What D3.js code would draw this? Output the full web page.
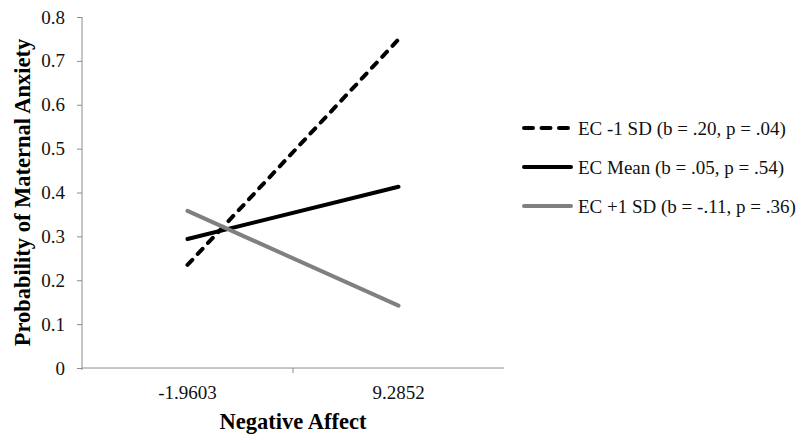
<!DOCTYPE html>
<html>
<head>
<meta charset="utf-8">
<script src="https://cdn.jsdelivr.net/npm/d3@7"></script>
<style>
  body { margin: 0; background: #fff; }
  svg text { font-family: "Liberation Serif", "Times New Roman", serif; }
</style>
</head>
<body>
<svg id="chart" width="805" height="443"></svg>
<script>
const categories = ["-1.9603", "9.2852"];
const yTicks = [0, 0.1, 0.2, 0.3, 0.4, 0.5, 0.6, 0.7, 0.8];
const lowEC = [0.235, 0.749];
const meanEC = [0.294, 0.413];
const highEC = [0.358, 0.142];
const seriesNames = [
  "EC -1 SD (b = .20, p = .04)",
  "EC Mean (b = .05, p = .54)",
  "EC +1 SD (b = -.11, p = .36)"
];

const svg = d3.select("#chart");
const plotLeft = 82, plotRight = 504, plotTop = 17, plotBottom = 368;

const x = d3.scaleBand().domain(categories).range([plotLeft, plotRight]);
const y = d3.scaleLinear().domain([0, 0.8]).range([plotBottom, plotTop]);

// y axis
const yAxis = svg.append("g")
  .attr("transform", `translate(${plotLeft},0)`)
  .call(d3.axisLeft(y).tickValues(yTicks).tickSize(5).tickPadding(12)
    .tickFormat(d => d === 0 ? "0" : d3.format(".1f")(d)));
yAxis.select(".domain").attr("stroke", "#8c8c8c").attr("d", `M0,${plotTop}V${plotBottom + 2}`);
yAxis.selectAll(".tick line").attr("stroke", "#8c8c8c");
yAxis.selectAll(".tick text").attr("font-size", 19).attr("fill", "#111");

// x axis (category axis with ticks between categories)
const xAxis = svg.append("g")
  .attr("transform", `translate(0,${plotBottom})`)
  .call(d3.axisBottom(x).tickSize(0).tickPadding(18));
xAxis.select(".domain").attr("stroke", "#8c8c8c").attr("d", `M${plotLeft},0H${plotRight}`);
xAxis.selectAll(".tick text").attr("font-size", 19).attr("fill", "#111");
xAxis.selectAll(".between")
  .data([categories[1]])
  .join("line")
  .attr("class", "between")
  .attr("x1", d => x(d)).attr("x2", d => x(d))
  .attr("y1", 0).attr("y2", 5)
  .attr("stroke", "#8c8c8c");

// axis titles
svg.append("text")
  .attr("transform", `translate(30,${(plotTop + plotBottom) / 2}) rotate(-90)`)
  .attr("text-anchor", "middle")
  .attr("font-size", 22.5).attr("font-weight", "bold")
  .text("Probability of Maternal Anxiety");

svg.append("text")
  .attr("x", (plotLeft + plotRight) / 2).attr("y", 429)
  .attr("text-anchor", "middle")
  .attr("font-size", 22.5).attr("font-weight", "bold")
  .text("Negative Affect");

// lines
const series = [
  { name: seriesNames[0], values: lowEC, color: "#000", dash: "7,8", legendDash: "9,8.5" },
  { name: seriesNames[1], values: meanEC, color: "#000", dash: null, legendDash: null },
  { name: seriesNames[2], values: highEC, color: "#808080", dash: null, legendDash: null }
];

const line = d3.line()
  .x((d, i) => x(categories[i]) + x.bandwidth() / 2)
  .y(d => y(d));

svg.selectAll(".series")
  .data(series)
  .join("path")
  .attr("class", "series")
  .attr("d", d => line(d.values))
  .attr("fill", "none")
  .attr("stroke", d => d.color)
  .attr("stroke-width", 4)
  .attr("stroke-dasharray", d => d.dash)
  .attr("stroke-linecap", "round");

// legend
const legend = svg.append("g").attr("transform", "translate(522,128)");
const rows = legend.selectAll("g")
  .data(series)
  .join("g")
  .attr("transform", (d, i) => `translate(0,${i * 39})`);
rows.append("line")
  .attr("x1", 2).attr("x2", 49).attr("y1", 0).attr("y2", 0)
  .attr("stroke", d => d.color)
  .attr("stroke-width", 4)
  .attr("stroke-dasharray", d => d.legendDash)
  .attr("stroke-linecap", "round");
rows.append("text")
  .attr("x", 56).attr("y", 6.5)
  .attr("font-size", 19).attr("fill", "#111")
  .text(d => d.name);
</script>
</body>
</html>
